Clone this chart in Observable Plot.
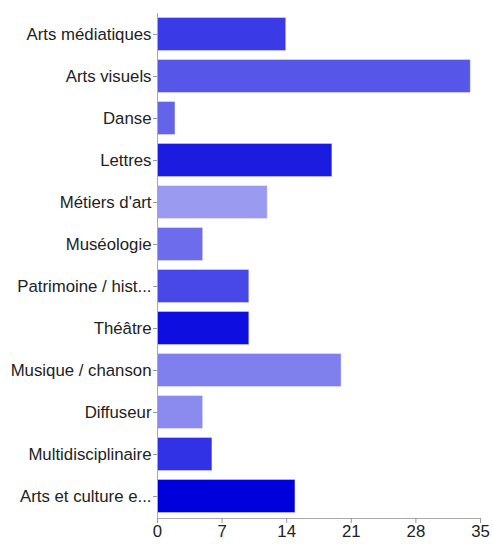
<!DOCTYPE html>
<html><head><meta charset="utf-8">
<script src="https://cdn.jsdelivr.net/npm/d3@7"></script>
<script src="https://cdn.jsdelivr.net/npm/@observablehq/plot@0.6"></script>
<style>body{margin:0;background:#fff;} svg{font-family:"Liberation Sans",Arial,sans-serif;}</style>
</head><body><div id="chart"></div>
<script>
const categories = ["Arts médiatiques","Arts visuels","Danse","Lettres","Métiers d'art","Muséologie","Patrimoine / hist...","Théâtre","Musique / chanson","Diffuseur","Multidisciplinaire","Arts et culture e..."];
const values = [14,34,2,19,12,5,10,10,20,5,6,15];
const palette = ["#3a3ae6","#5656e9","#6464ea","#1c1ce0","#9a9af1","#6c6cec","#4848e8","#0e0ee1","#7f7fee","#8b8bef","#3131e5","#0000dd"];
const xTicks = [0,7,14,21,28,35];
const data = categories.map((c,i)=>({category:c, value:values[i]}));
const chart = Plot.plot({
  width: 492, height: 544,
  marginLeft: 157, marginRight: 12, marginTop: 13, marginBottom: 26,
  style: {fontSize: "16.8px", color: "#222", fontFamily: "'Liberation Sans', Arial, sans-serif"},
  x: {domain:[0,35], ticks: xTicks},
  y: {domain: categories, paddingInner: 0.19, paddingOuter: 0.1},
  color: {domain: categories, range: palette},
  marks: [
    Plot.barX(data, {x:"value", y:"category", fill:"category", stroke:"white", strokeOpacity:0.35, strokeWidth:1, inset:0.5}),
    Plot.ruleX([0], {stroke:"#aaa"}),
    Plot.frame({anchor:"bottom", stroke:"#aaa"}),
    Plot.axisY({tickSize:4, tickPadding:2, stroke:"#999", label:null, fill:"#222", fontSize:16.8}),
    Plot.axisX({ticks: xTicks, tickSize:5, tickPadding:2, stroke:"#999", label:null, fill:"#222", fontSize:16.8})
  ]
});
document.getElementById("chart").appendChild(chart);
</script></body></html>
